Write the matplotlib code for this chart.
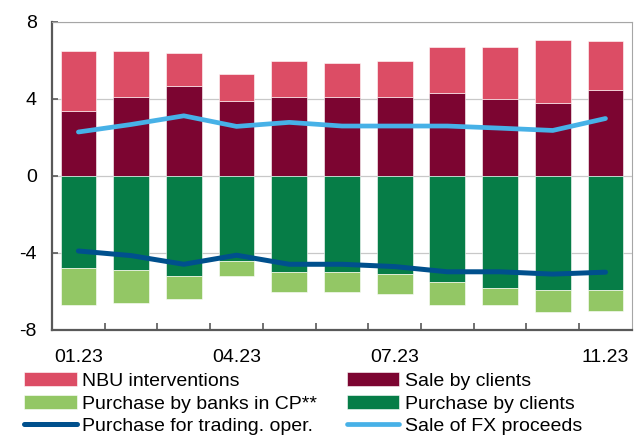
import numpy as np
import matplotlib
matplotlib.use("Agg")
import matplotlib.pyplot as plt

plt.rcParams["font.family"] = ["Liberation Sans", "DejaVu Sans"]

# monthly values, 01.23 .. 11.23
months = ["01.23", "02.23", "03.23", "04.23", "05.23", "06.23",
          "07.23", "08.23", "09.23", "10.23", "11.23"]
shown_labels = {"01.23", "04.23", "07.23", "11.23"}

sale_by_clients = [3.36, 4.09, 4.66, 3.88, 4.09, 4.09, 4.09, 4.28, 3.98, 3.78, 4.47]
nbu_interventions = [3.12, 2.39, 1.72, 1.40, 1.89, 1.79, 1.89, 2.39, 2.69, 3.29, 2.51]
purchase_by_clients = [-4.78, -4.88, -5.19, -4.43, -4.98, -4.98, -5.09, -5.50, -5.81, -5.91, -5.91]
purchase_banks_cp = [-1.91, -1.72, -1.21, -0.76, -1.04, -1.04, -1.03, -1.19, -0.88, -1.18, -1.09]
purchase_trading = [-3.90, -4.14, -4.59, -4.12, -4.59, -4.59, -4.71, -4.98, -4.98, -5.10, -5.00]
sale_fx_proceeds = [2.28, 2.67, 3.12, 2.57, 2.78, 2.59, 2.59, 2.59, 2.48, 2.36, 2.98]

c_nbu = "#DC4D65"
c_sale = "#7C0531"
c_banks = "#93C765"
c_purch = "#067D47"
c_trade = "#00508D"
c_fx = "#47B1E7"

x = np.arange(len(months))
w = 0.68

fig = plt.figure(figsize=(6.35, 4.37), dpi=100)
ax = fig.add_axes([0.082, 0.245, 0.913, 0.705])

edge = dict(edgecolor="white", linewidth=0.4)
b_sale = ax.bar(x, sale_by_clients, w, color=c_sale, zorder=2, **edge)
b_nbu = ax.bar(x, nbu_interventions, w, bottom=sale_by_clients, color=c_nbu, zorder=2, **edge)
b_purch = ax.bar(x, purchase_by_clients, w, color=c_purch, zorder=2, **edge)
b_banks = ax.bar(x, purchase_banks_cp, w, bottom=purchase_by_clients, color=c_banks, zorder=2, **edge)

l_trade, = ax.plot(x, purchase_trading, color=c_trade, lw=3.6, solid_capstyle="round", zorder=3)
l_fx, = ax.plot(x, sale_fx_proceeds, color=c_fx, lw=3.4, solid_capstyle="round", zorder=3)

ax.set_xlim(-0.5, 10.5)
ax.set_ylim(-8, 8)
ax.set_yticks([-8, -4, 0, 4, 8])
ax.set_yticklabels(["-8", "-4", "0", "4", "8"])
ax.grid(axis="y", color="#C8C8C8", lw=0.9, zorder=0)

# month labels without marks, separators between bars as ticks
ax.set_xticks(x)
ax.set_xticklabels([m if m in shown_labels else "" for m in months])
ax.set_xticks(x[:-1] + 0.5, minor=True)
ax.tick_params(axis="x", which="major", length=0, pad=14, labelsize=14)
ax.tick_params(axis="x", which="minor", direction="in", length=5, width=1.2, color="#595959")
ax.tick_params(axis="y", direction="in", length=4, width=1.2, color="#595959", pad=11, labelsize=14)

for s in ["left", "bottom"]:
    ax.spines[s].set_color("#595959")
    ax.spines[s].set_linewidth(1.6)
for s in ["top", "right"]:
    ax.spines[s].set_color("#A6A6A6")
    ax.spines[s].set_linewidth(0.8)

handles = [b_nbu, b_banks, l_trade, b_sale, b_purch, l_fx]
labels = ["NBU interventions", "Purchase by banks in CP**", "Purchase for trading. oper.",
          "Sale by clients", "Purchase by clients", "Sale of FX proceeds"]
fig.legend(handles, labels, ncol=2, loc="upper left", bbox_to_anchor=(0.038, 0.148),
           frameon=False, fontsize=14, handlelength=2.7, handletextpad=0.3,
           labelspacing=0.26, columnspacing=1.5, borderaxespad=0, borderpad=0)

fig.savefig("out.png", dpi=100)
